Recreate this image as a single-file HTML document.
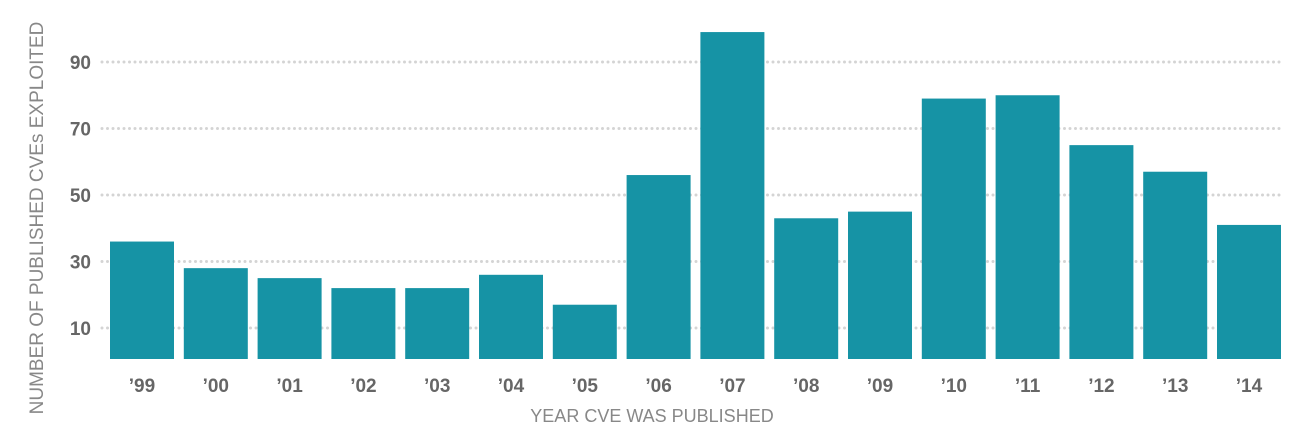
<!DOCTYPE html>
<html><head><meta charset="utf-8"><style>
body{margin:0;background:#fff;}
svg{display:block;font-family:"Liberation Sans",sans-serif;}
</style></head><body>
<svg id="chart" width="1298" height="436">
<g id="grid"></g>
<g id="bars"></g>
<g id="ylabels"></g>
<g id="xlabels"></g>
<text transform="translate(43,218) rotate(-90)" text-anchor="middle" font-size="19" fill="#888">NUMBER OF PUBLISHED CVEs EXPLOITED</text>
<text x="652" y="422" text-anchor="middle" font-size="18" fill="#888">YEAR CVE WAS PUBLISHED</text>
</svg>
<script>
const categories = ["’99","’00","’01","’02","’03","’04","’05","’06","’07","’08","’09","’10","’11","’12","’13","’14"];
const values = [36,28,25,22,22,26,17,56,99,43,45,79,80,65,57,41];
const yTicks = [10,30,50,70,90];
const NS="http://www.w3.org/2000/svg";
function y(v){return 361.25-3.325*v;}
function x(i){return 110+i*73.8;}
const bw=64, base=359;
function mk(t,a,p){const e=document.createElementNS(NS,t);for(const k in a)e.setAttribute(k,a[k]);p.appendChild(e);return e;}
const grid=document.getElementById('grid'),bars=document.getElementById('bars'),yl=document.getElementById('ylabels'),xl=document.getElementById('xlabels');
yTicks.forEach(t=>{
  const l=mk('line',{x1:102,x2:1282,y1:y(t),y2:y(t),stroke:'#d4d4d4','stroke-width':3,'stroke-dasharray':'0 5.5','stroke-linecap':'round'},grid);
  
  
  const tx=mk('text',{x:91,y:y(t)+7,'text-anchor':'end','font-size':19,'font-weight':'bold',fill:'#666'},yl);
  tx.textContent=t;
  
  
});
values.forEach((v,i)=>{
  const r=mk('rect',{x:x(i),y:y(v),width:bw,height:base-y(v),fill:'#1693a5'},bars);
  
  
  const tx=mk('text',{x:x(i)+bw/2,y:392,'text-anchor':'middle','font-size':19,'font-weight':'bold',fill:'#666'},xl);
  tx.textContent=categories[i];
  
  
});
</script>
</body></html>
